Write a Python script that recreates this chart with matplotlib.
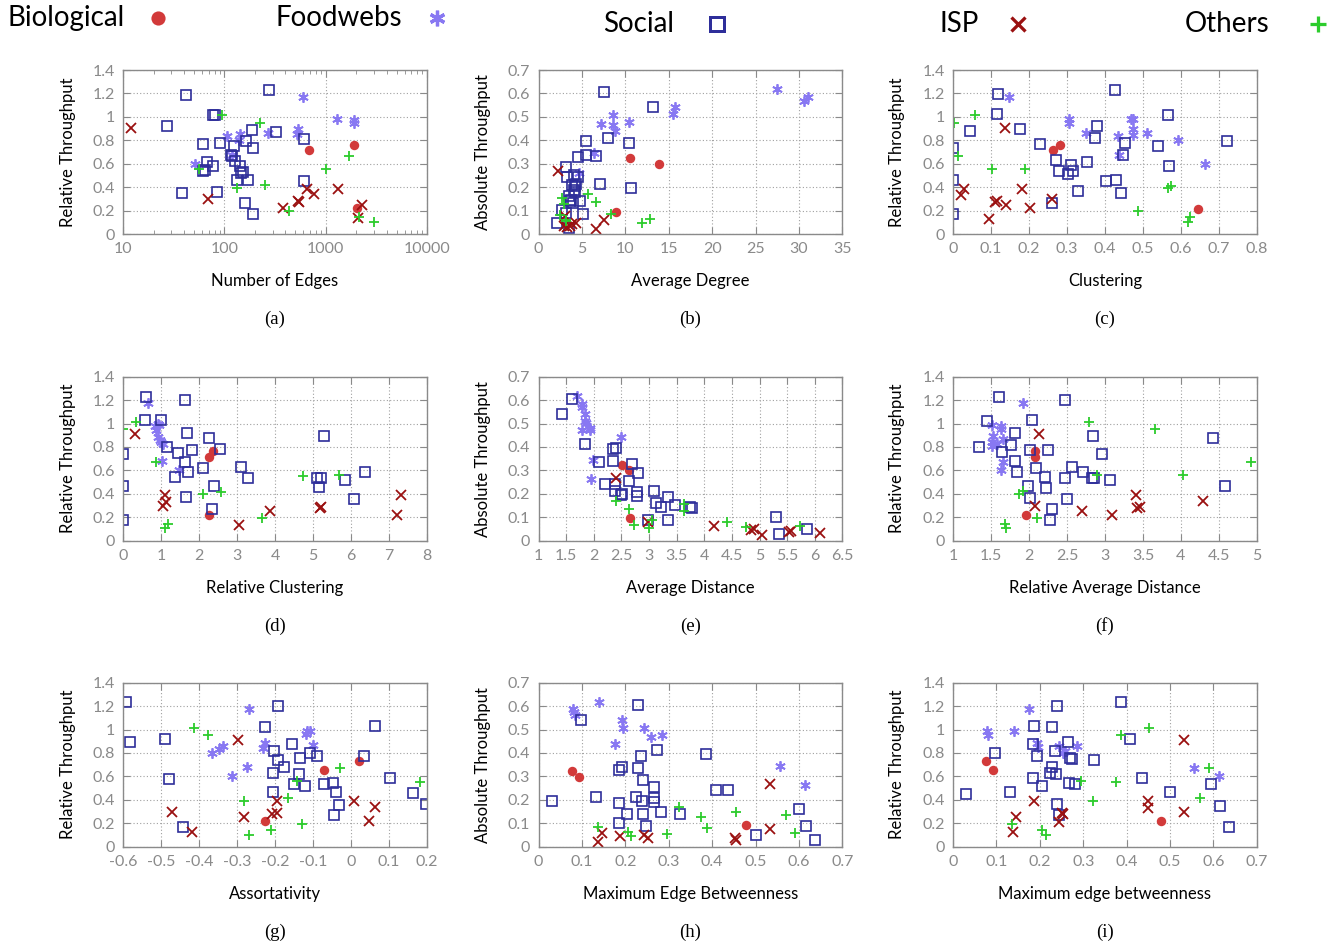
import matplotlib
matplotlib.use("Agg")
import matplotlib.pyplot as plt
from matplotlib.ticker import MultipleLocator, LogLocator, NullFormatter, FuncFormatter

plt.rcParams['font.family'] = ['Lato', 'DejaVu Sans']

# ---- data: (x, y) per category and panel ----
# (a) number of edges vs relative throughput
a_bio = [(680, 0.714), (1918, 0.757), (2036, 0.219)]
a_food = [(597, 1.17), (1290, 0.985), (1918, 0.97), (1918, 0.945), (529, 0.893), (521, 0.854),
          (268, 0.865), (142, 0.854), (105, 0.837), (138, 0.80), (118, 0.677), (51, 0.60)]
a_soc = [(42, 1.19), (274, 1.23), (78, 1.02), (80, 1.02), (27, 0.92), (61, 0.77), (91, 0.78),
         (186, 0.89), (326, 0.875), (165, 0.79), (193, 0.734), (615, 0.815), (124, 0.75),
         (115, 0.677), (118, 0.665), (128, 0.626), (67, 0.615), (78, 0.58), (142, 0.58),
         (62, 0.54), (64, 0.545), (153, 0.53), (145, 0.52), (132, 0.46), (171, 0.46),
         (615, 0.45), (38, 0.353), (85, 0.36), (160, 0.267), (193, 0.17)]
a_isp = [(12.1, 0.905), (68.5, 0.296), (382, 0.219), (542, 0.276), (535, 0.28), (654, 0.387),
         (762, 0.339), (1313, 0.387), (2285, 0.25), (2070, 0.137)]
a_oth = [(95.5, 1.013), (226, 0.948), (56.6, 0.552), (133, 0.393), (254, 0.418), (438, 0.193),
         (1687, 0.669), (1016, 0.558), (2118, 0.145), (2977, 0.10)]

# (b) average degree vs absolute throughput
b_bio = [(10.49, 0.324), (13.84, 0.299), (8.94, 0.094)]
b_food = [(27.49, 0.617), (30.53, 0.568), (31.03, 0.586), (15.69, 0.541), (15.46, 0.512),
          (8.6, 0.506), (7.2, 0.468), (8.6, 0.465), (10.37, 0.48), (8.75, 0.441), (6.4, 0.347),
          (4.7, 0.262)]
b_soc = [(7.52, 0.605), (13.18, 0.541), (7.98, 0.41), (5.47, 0.397), (10.37, 0.39), (5.51, 0.337),
         (6.67, 0.334), (4.55, 0.327), (3.2, 0.287), (3.31, 0.242), (4.59, 0.242), (4.05, 0.252),
         (3.82, 0.209), (4.24, 0.205), (4.36, 0.215), (7.09, 0.212), (10.6, 0.196), (4.09, 0.189),
         (4.16, 0.181), (3.47, 0.162), (3.78, 0.145), (3.93, 0.134), (4.74, 0.142), (3.59, 0.142),
         (2.74, 0.102), (5.13, 0.087), (3.2, 0.088), (2.16, 0.048), (3.47, 0.024)]
b_isp = [(2.24, 0.269), (3.08, 0.077), (7.52, 0.06), (4.36, 0.048), (3.86, 0.041), (3.28, 0.031),
         (2.89, 0.034), (6.59, 0.023), (3.66, 0.036)]
b_oth = [(2.66, 0.154), (5.67, 0.169), (6.59, 0.135), (2.97, 0.128), (2.43, 0.08), (3.12, 0.06),
         (3.2, 0.054), (8.4, 0.085), (12.84, 0.064), (11.91, 0.048)]

# (c) clustering vs relative throughput
c_bio = [(0.263, 0.714), (0.283, 0.757), (0.646, 0.216)]
c_food = [(0.148, 1.17), (0.306, 0.979), (0.306, 0.95), (0.468, 0.985), (0.475, 0.982),
          (0.474, 0.893), (0.475, 0.842), (0.351, 0.862), (0.51, 0.859), (0.434, 0.837),
          (0.591, 0.80), (0.437, 0.677), (0.664, 0.60)]
c_soc = [(0.1175, 1.195), (0.426, 1.229), (0.116, 1.027), (0.565, 1.019), (0.044, 0.876),
         (0.177, 0.893), (0.38, 0.922), (0.375, 0.817), (0.229, 0.771), (0.453, 0.777),
         (0.539, 0.751), (0.722, 0.794), (0.0, 0.737), (0.272, 0.632), (0.28, 0.541),
         (0.31, 0.586), (0.304, 0.515), (0.317, 0.535), (0.352, 0.615), (0.448, 0.677),
         (0.569, 0.583), (0.0, 0.464), (0.403, 0.452), (0.429, 0.461), (0.33, 0.364),
         (0.442, 0.353), (0.26, 0.267), (0.0, 0.171)]
c_isp = [(0.137, 0.905), (0.028, 0.387), (0.022, 0.336), (0.181, 0.387), (0.111, 0.276),
         (0.116, 0.285), (0.139, 0.25), (0.204, 0.219), (0.261, 0.296), (0.096, 0.128)]
c_oth = [(0.057, 1.013), (0.002, 0.948), (0.012, 0.669), (0.103, 0.558), (0.19, 0.552),
         (0.565, 0.39), (0.574, 0.413), (0.486, 0.196), (0.625, 0.148), (0.618, 0.10)]

# (d) relative clustering vs relative throughput
d_bio = [(2.255, 0.717), (2.379, 0.763), (2.255, 0.219)]
d_food = [(0.652, 1.175), (0.828, 0.976), (0.907, 0.993), (0.95, 0.987), (0.863, 0.942),
          (0.925, 0.885), (0.969, 0.862), (1.004, 0.839), (1.04, 0.822), (1.013, 0.68),
          (1.471, 0.60)]
d_soc = [(0.608, 1.226), (1.639, 1.198), (0.59, 1.027), (1.004, 1.027), (1.683, 0.922),
         (5.286, 0.893), (2.264, 0.876), (2.564, 0.78), (1.824, 0.774), (1.163, 0.80),
         (1.454, 0.751), (1.639, 0.674), (1.718, 0.586), (2.097, 0.62), (3.092, 0.632),
         (3.295, 0.538), (1.374, 0.546), (0.0, 0.737), (0.0, 0.47), (5.1, 0.538), (5.207, 0.535),
         (5.145, 0.455), (5.83, 0.521), (6.36, 0.589), (6.08, 0.359), (2.405, 0.47),
         (1.656, 0.37), (2.335, 0.27), (0.0, 0.176)]
d_isp = [(0.308, 0.908), (1.101, 0.39), (1.137, 0.333), (1.04, 0.299), (3.048, 0.131),
         (3.859, 0.25), (5.18, 0.282), (5.21, 0.285), (7.31, 0.39), (7.2, 0.219)]
d_oth = [(0.0, 0.95), (0.344, 1.013), (0.863, 0.669), (2.097, 0.396), (2.573, 0.415),
         (4.74, 0.555), (5.68, 0.563), (3.665, 0.196), (1.093, 0.105), (1.19, 0.145)]

# (e) average distance vs absolute throughput
e_bio = [(2.508, 0.324), (2.63, 0.30), (2.653, 0.097)]
e_food = [(1.693, 0.619), (1.784, 0.583), (1.784, 0.569), (1.845, 0.542), (1.845, 0.511),
          (1.851, 0.501), (1.924, 0.482), (1.924, 0.471), (1.784, 0.471), (2.483, 0.441),
          (1.979, 0.346), (1.948, 0.263)]
e_soc = [(1.614, 0.605), (1.432, 0.542), (1.845, 0.412), (2.41, 0.397), (2.356, 0.391),
         (2.094, 0.337), (2.343, 0.339), (2.69, 0.327), (2.793, 0.289), (2.63, 0.256),
         (2.204, 0.243), (2.392, 0.243), (2.38, 0.213), (2.495, 0.196), (2.515, 0.198),
         (2.78, 0.209), (2.78, 0.191), (3.085, 0.212), (3.12, 0.162), (3.22, 0.144),
         (3.35, 0.188), (3.47, 0.152), (3.74, 0.142), (3.784, 0.141), (2.98, 0.09),
         (3.35, 0.088), (5.30, 0.102), (5.35, 0.028), (5.86, 0.05)]
e_isp = [(2.41, 0.269), (2.976, 0.078), (4.18, 0.061), (4.9, 0.051), (4.85, 0.047),
         (5.04, 0.023), (5.54, 0.038), (5.57, 0.04), (6.09, 0.031)]
e_oth = [(2.41, 0.171), (2.63, 0.137), (2.73, 0.067), (2.99, 0.053), (3.06, 0.088),
         (3.64, 0.155), (3.64, 0.127), (4.41, 0.081), (4.75, 0.057), (5.74, 0.063)]

# (f) relative average distance vs relative throughput
f_bio = [(2.079, 0.763), (2.079, 0.717), (1.965, 0.219)]
f_food = [(1.921, 1.172), (1.511, 0.987), (1.626, 0.982), (1.626, 0.95), (1.524, 0.891),
          (1.665, 0.868), (1.52, 0.839), (1.577, 0.825), (1.515, 0.811), (1.652, 0.674),
          (1.634, 0.60)]
f_soc = [(1.608, 1.229), (2.471, 1.198), (1.445, 1.024), (2.035, 1.03), (1.819, 0.922),
         (2.837, 0.893), (4.419, 0.879), (1.339, 0.797), (1.758, 0.817), (2.009, 0.777),
         (2.251, 0.771), (2.956, 0.737), (1.648, 0.754), (1.811, 0.677), (2.097, 0.617),
         (1.846, 0.583), (2.564, 0.632), (2.71, 0.589), (2.83, 0.532), (2.85, 0.532),
         (2.216, 0.546), (2.48, 0.538), (3.07, 0.518), (1.991, 0.47), (2.225, 0.452),
         (4.586, 0.467), (2.013, 0.364), (2.502, 0.356), (2.304, 0.27), (2.273, 0.176)]
f_isp = [(2.128, 0.911), (2.084, 0.299), (2.696, 0.25), (3.093, 0.219), (3.414, 0.39),
         (3.427, 0.276), (3.458, 0.287), (4.286, 0.339)]
f_oth = [(2.784, 1.016), (3.665, 0.953), (4.031, 0.563), (4.925, 0.674), (2.899, 0.561),
         (1.872, 0.398), (1.925, 0.424), (2.11, 0.196), (1.683, 0.142), (1.692, 0.105)]

# (g) assortativity vs relative throughput
g_bio = [(-0.227, 0.217), (-0.071, 0.657), (0.02, 0.734)]
g_food = [(-0.269, 1.174), (-0.115, 0.983), (-0.108, 0.983), (-0.119, 0.96), (-0.227, 0.889),
          (-0.232, 0.846), (-0.101, 0.871), (-0.336, 0.86), (-0.348, 0.837), (-0.366, 0.803),
          (-0.274, 0.677), (-0.313, 0.60)]
g_soc = [(-0.591, 1.231), (-0.581, 0.894), (-0.489, 0.923), (-0.478, 0.58), (-0.441, 0.171),
         (-0.193, 1.20), (-0.226, 1.023), (0.063, 1.031), (-0.204, 0.82), (-0.156, 0.88),
         (-0.108, 0.797), (-0.09, 0.777), (0.034, 0.771), (-0.135, 0.754), (-0.191, 0.737),
         (-0.177, 0.677), (-0.206, 0.631), (-0.137, 0.617), (0.103, 0.586), (-0.15, 0.531),
         (-0.12, 0.517), (-0.072, 0.537), (-0.047, 0.543), (-0.04, 0.466), (-0.205, 0.463),
         (0.162, 0.454), (0.198, 0.366), (-0.031, 0.357), (-0.046, 0.271)]
g_isp = [(-0.298, 0.911), (-0.471, 0.30), (-0.419, 0.129), (-0.281, 0.254), (-0.207, 0.277),
         (-0.196, 0.286), (-0.194, 0.386), (0.008, 0.391), (0.063, 0.337), (0.048, 0.217)]
g_oth = [(-0.412, 1.014), (-0.377, 0.957), (-0.281, 0.394), (-0.167, 0.417), (-0.142, 0.563),
         (-0.029, 0.674), (0.182, 0.554), (-0.13, 0.194), (-0.21, 0.143), (-0.269, 0.103)]

# (h) maximum edge betweenness vs absolute throughput
h_bio = [(0.076, 0.321), (0.093, 0.299), (0.478, 0.094)]
h_food = [(0.14, 0.618), (0.08, 0.587), (0.081, 0.573), (0.083, 0.563), (0.193, 0.541),
          (0.194, 0.508), (0.244, 0.505), (0.258, 0.467), (0.285, 0.477), (0.175, 0.438),
          (0.557, 0.345), (0.614, 0.262)]
h_soc = [(0.23, 0.604), (0.097, 0.541), (0.273, 0.411), (0.235, 0.389), (0.386, 0.395),
         (0.193, 0.339), (0.186, 0.327), (0.228, 0.336), (0.24, 0.286), (0.266, 0.253),
         (0.408, 0.242), (0.436, 0.242), (0.132, 0.212), (0.224, 0.212), (0.265, 0.208),
         (0.031, 0.196), (0.238, 0.195), (0.267, 0.189), (0.185, 0.186), (0.281, 0.15),
         (0.326, 0.141), (0.203, 0.139), (0.241, 0.141), (0.599, 0.162), (0.186, 0.102),
         (0.247, 0.087), (0.616, 0.087), (0.50, 0.049), (0.637, 0.027)]
h_isp = [(0.533, 0.267), (0.533, 0.074), (0.147, 0.059), (0.138, 0.021), (0.187, 0.044),
         (0.242, 0.049), (0.251, 0.035), (0.452, 0.035), (0.454, 0.03)]
h_oth = [(0.137, 0.085), (0.207, 0.063), (0.214, 0.047), (0.295, 0.053), (0.323, 0.171),
         (0.374, 0.125), (0.388, 0.078), (0.454, 0.15), (0.57, 0.136), (0.591, 0.059)]

# (i) maximum edge betweenness vs relative throughput
i_bio = [(0.077, 0.734), (0.093, 0.657), (0.478, 0.217)]
i_food = [(0.175, 1.174), (0.079, 0.983), (0.081, 0.951), (0.14, 0.983), (0.193, 0.889),
          (0.195, 0.854), (0.244, 0.857), (0.285, 0.863), (0.258, 0.82), (0.254, 0.80),
          (0.554, 0.674), (0.612, 0.60)]
i_soc = [(0.386, 1.231), (0.24, 1.20), (0.186, 1.029), (0.229, 1.023), (0.407, 0.923),
         (0.265, 0.897), (0.184, 0.88), (0.235, 0.82), (0.096, 0.797), (0.194, 0.777),
         (0.269, 0.76), (0.273, 0.751), (0.325, 0.737), (0.228, 0.677), (0.223, 0.631),
         (0.238, 0.617), (0.184, 0.586), (0.436, 0.583), (0.204, 0.514), (0.267, 0.543),
         (0.281, 0.531), (0.594, 0.537), (0.031, 0.451), (0.132, 0.463), (0.50, 0.463),
         (0.24, 0.363), (0.615, 0.351), (0.245, 0.269), (0.635, 0.171)]
i_isp = [(0.532, 0.909), (0.187, 0.391), (0.146, 0.251), (0.139, 0.126), (0.251, 0.286),
         (0.253, 0.28), (0.245, 0.214), (0.45, 0.389), (0.45, 0.334), (0.532, 0.297)]
i_oth = [(0.451, 1.014), (0.387, 0.957), (0.59, 0.669), (0.294, 0.563), (0.375, 0.554),
         (0.322, 0.391), (0.569, 0.414), (0.136, 0.191), (0.206, 0.143), (0.214, 0.103)]

categories = ['Biological', 'Foodwebs', 'Social', 'ISP', 'Others']
panel_letters = ['a', 'b', 'c', 'd', 'e', 'f', 'g', 'h', 'i']
panel_data = [
    [a_bio, a_food, a_soc, a_isp, a_oth],
    [b_bio, b_food, b_soc, b_isp, b_oth],
    [c_bio, c_food, c_soc, c_isp, c_oth],
    [d_bio, d_food, d_soc, d_isp, d_oth],
    [e_bio, e_food, e_soc, e_isp, e_oth],
    [f_bio, f_food, f_soc, f_isp, f_oth],
    [g_bio, g_food, g_soc, g_isp, g_oth],
    [h_bio, h_food, h_soc, h_isp, h_oth],
    [i_bio, i_food, i_soc, i_isp, i_oth],
]
xlabels = ['Number of Edges', 'Average Degree', 'Clustering',
           'Relative Clustering', 'Average Distance', 'Relative Average Distance',
           'Assortativity', 'Maximum Edge Betweenness', 'Maximum edge betweenness']
ylabels = ['Relative Throughput', 'Absolute Throughput', 'Relative Throughput'] * 3
xlims = [(10, 10000), (0, 35), (0, 0.8), (0, 8), (1, 6.5), (1, 5), (-0.6, 0.2), (0, 0.7), (0, 0.7)]
xsteps = [None, 5, 0.1, 1, 0.5, 0.5, 0.1, 0.1, 0.1]

# ---- styling ----
styles = {
    'Biological': dict(marker='o', color='#d23a3a', ms=6.8, mfc='#d23a3a', mew=0),
    'Foodwebs': dict(marker=(6, 2, 0), color='#8878f2', ms=7.5, mew=1.3),
    'Social': dict(marker='s', color='#2e2e9a', ms=6.6, mfc='none', mew=1.2),
    'ISP': dict(marker='x', color='#9a1010', ms=6.5, mew=1.3),
    'Others': dict(marker='+', color='#2ccc2c', ms=7.5, mew=1.3),
}
GRAY = '#8a8a8a'

fig = plt.figure(figsize=(13.39, 9.46), dpi=100)
lefts = [0.0919, 0.4022, 0.7117]
bottoms = [0.7526, 0.4284, 0.105]
W, H = 0.227, 0.1734


def fmt_num(v, _):
    s = ('%.2f' % v).rstrip('0').rstrip('.')
    if s == '-0':
        s = '0'
    return s


for k in range(9):
    r, c = divmod(k, 3)
    ax = fig.add_axes([lefts[c], bottoms[r], W, H])
    for cat, pts in zip(categories, panel_data[k]):
        xs = [p[0] for p in pts]
        ys = [p[1] for p in pts]
        ax.plot(xs, ys, linestyle='none', **styles[cat])

    ymax = 0.7 if ylabels[k].startswith('Absolute') else 1.4
    ax.set_ylim(0, ymax)
    ax.yaxis.set_major_locator(MultipleLocator(ymax / 7))
    ax.yaxis.set_major_formatter(FuncFormatter(fmt_num))
    ax.set_xlim(*xlims[k])
    if k == 0:
        ax.set_xscale('log')
        ax.xaxis.set_major_locator(LogLocator(base=10))
        ax.xaxis.set_minor_locator(LogLocator(base=10, subs=range(2, 10)))
        ax.xaxis.set_minor_formatter(NullFormatter())
        ax.xaxis.set_major_formatter(FuncFormatter(lambda v, _: '%d' % round(v)))
    else:
        ax.xaxis.set_major_locator(MultipleLocator(xsteps[k]))
        ax.xaxis.set_major_formatter(FuncFormatter(fmt_num))

    ax.grid(True, which='major', linestyle=(0, (1, 2)), color='#a0a0a0', linewidth=0.8)
    ax.set_axisbelow(True)
    for sp in ax.spines.values():
        sp.set_color(GRAY)
        sp.set_linewidth(1.0)
    ax.tick_params(which='both', direction='in', top=True, right=True, colors=GRAY,
                   labelsize=11.5, labelcolor=GRAY)
    ax.tick_params(which='major', length=5, pad=6)
    ax.tick_params(which='minor', length=3)

    ax.set_xlabel(xlabels[k], fontsize=12, color='black', labelpad=12)
    ax.set_ylabel(ylabels[k], fontsize=12, color='black', labelpad=12)
    ax.text(0.5, -0.52, '(%s)' % panel_letters[k], transform=ax.transAxes, ha='center',
            va='center', fontsize=13.5, family='Liberation Serif')

# ---- legend row across the top ----
lax = fig.add_axes([0, 0, 1, 1])
lax.set_xlim(0, 1339)
lax.set_ylim(946, 0)
lax.axis('off')
legend_text = [(7, 18), (275, 18), (603, 24), (940, 24), (1185, 24)]
legend_mark = [(158, 18), (437, 18), (717, 24), (1018, 24), (1318, 24)]
for cat, (tx, ty), (mx, my) in zip(categories, legend_text, legend_mark):
    lax.text(tx, ty, cat, fontsize=20, ha='left', va='center')
    st = dict(styles[cat])
    st['ms'] = st['ms'] * 1.5
    st['mew'] = st['mew'] * 1.8
    lax.plot([mx], [my], linestyle='none', **st)

fig.savefig('out.png', dpi=100)
